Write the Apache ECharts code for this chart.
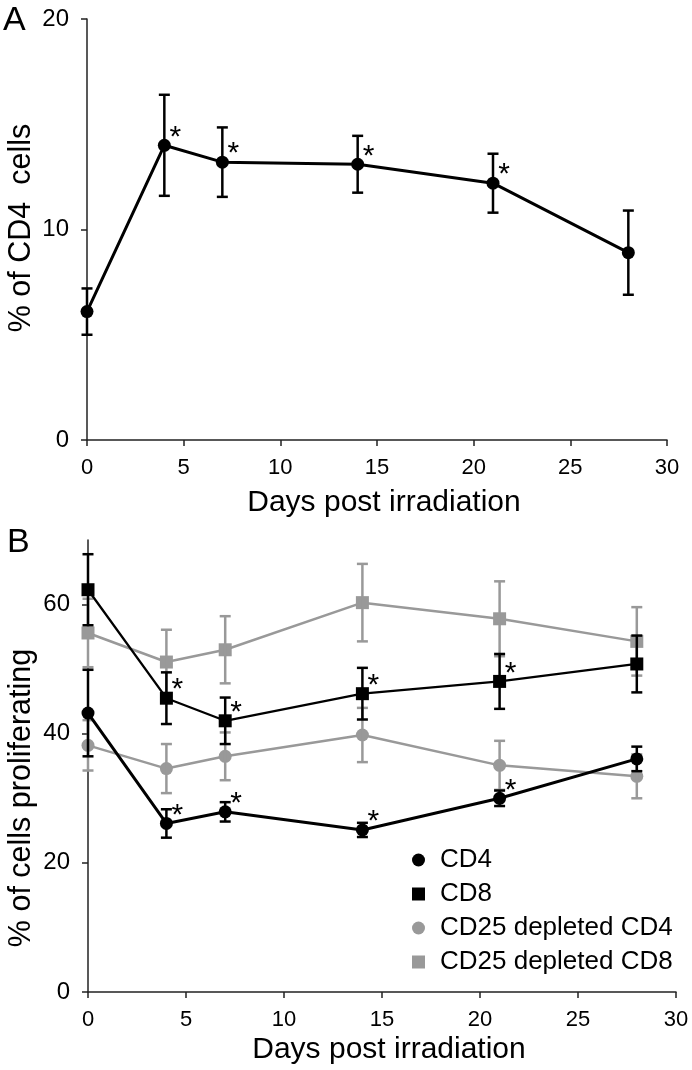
<!DOCTYPE html>
<html>
<head>
<meta charset="utf-8">
<script src="https://cdn.jsdelivr.net/npm/echarts@6/dist/echarts.min.js"></script>
<style>
  html, body { margin: 0; padding: 0; background: #fff; }
  #chart { width: 692px; height: 1070px; }
</style>
</head>
<body>
<div id="chart"></div>
<script>
const FONT = '"Liberation Sans", Arial, sans-serif';
const BLACK = '#000';
const GREY = '#999';

const days = [0, 4, 7, 14, 21, 28];

// panel A: % of CD4 cells
const cd4Pct = [6.1, 14.0, 13.2, 13.1, 12.2, 8.9];
const cd4PctErr = [1.1, 2.4, 1.65, 1.35, 1.4, 2.0];
const cd4PctSig = [0, 1, 1, 1, 1, 0];

// panel B: % of cells proliferating
const cd4Prolif = [43.2, 26.1, 27.9, 25.1, 30.0, 36.1];
const cd4ProlifErr = [6.7, 2.2, 1.5, 1.1, 1.2, 1.9];
const cd4ProlifSig = [0, 1, 1, 1, 1, 0];
const cd8Prolif = [62.3, 45.5, 42.0, 46.2, 48.1, 50.8];
const cd8ProlifErr = [5.5, 4.0, 3.6, 4.0, 4.25, 4.4];
const cd8ProlifSig = [0, 1, 1, 1, 1, 0];
const dep4Prolif = [38.2, 34.6, 36.5, 39.8, 35.1, 33.4];
const dep4ProlifErr = [3.9, 3.8, 3.7, 4.2, 3.8, 3.4];
const dep8Prolif = [55.6, 51.1, 53.0, 60.3, 57.8, 54.3];
const dep8ProlifErr = [5.3, 5.0, 5.2, 6.0, 5.8, 5.3];

const yTicksA = [0, 10, 20];
const yTicksB = [0, 20, 40, 60];

const lineSeries = (name, idx, vals, color, symbol, width, z) => ({
  name,
  type: 'line',
  xAxisIndex: idx,
  yAxisIndex: idx,
  data: days.map((d, i) => [d, vals[i]]),
  symbol,
  symbolSize: 13,
  showSymbol: true,
  lineStyle: { color, width },
  itemStyle: { color, opacity: 1 },
  emphasis: { disabled: true },
  z
});

const errSeries = (idx, vals, errs, color, z) => ({
  type: 'custom',
  xAxisIndex: idx,
  yAxisIndex: idx,
  data: days.map((d, i) => [d, vals[i] - errs[i], vals[i] + errs[i]]),
  encode: { x: 0, y: [1, 2] },
  renderItem: (params, api) => {
    const lo = api.coord([api.value(0), api.value(1)]);
    const hi = api.coord([api.value(0), api.value(2)]);
    const cap = 5.5;
    const st = { stroke: color, lineWidth: 2.5 };
    return {
      type: 'group',
      children: [
        { type: 'line', shape: { x1: lo[0], y1: lo[1], x2: hi[0], y2: hi[1] }, style: st },
        { type: 'line', shape: { x1: lo[0] - cap, y1: lo[1], x2: lo[0] + cap, y2: lo[1] }, style: st },
        { type: 'line', shape: { x1: hi[0] - cap, y1: hi[1], x2: hi[0] + cap, y2: hi[1] }, style: st }
      ]
    };
  },
  silent: true,
  z
});

const starSeries = (idx, vals, sig) => ({
  type: 'custom',
  xAxisIndex: idx,
  yAxisIndex: idx,
  data: days.map((d, i) => [d, vals[i]]).filter((p, i) => sig[i]),
  encode: { x: 0, y: 1 },
  renderItem: (params, api) => {
    const p = api.coord([api.value(0), api.value(1)]);
    return {
      type: 'text',
      x: p[0] + 11,
      y: p[1] - 8,
      style: { text: '*', fontSize: 30, fontFamily: FONT, fill: BLACK, align: 'center', verticalAlign: 'middle' }
    };
  },
  silent: true,
  z: 10
});

const xAxisBase = (idx, gap) => ({
  gridIndex: idx,
  type: 'value',
  min: 0,
  max: 30,
  interval: 5,
  name: 'Days post irradiation',
  nameLocation: 'middle',
  nameGap: gap,
  nameTextStyle: { fontSize: 30, fontFamily: FONT, color: BLACK, padding: [0, 0, 0, 14] },
  axisLine: { onZero: false, lineStyle: { color: '#222', width: 1.5 } },
  axisTick: { length: 6, lineStyle: { color: '#222', width: 1.5 } },
  axisLabel: { fontSize: 22, fontFamily: FONT, color: BLACK, margin: 17 },
  splitLine: { show: false }
});

const yAxisBase = (idx, max, ticks) => ({
  gridIndex: idx,
  type: 'value',
  min: 0,
  max,
  axisLine: { show: true, onZero: false, lineStyle: { color: '#222', width: 1.5 } },
  axisTick: { show: true, length: 6, customValues: ticks, lineStyle: { color: '#222', width: 1.5 } },
  axisLabel: { fontSize: 24, fontFamily: FONT, color: BLACK, margin: 18, customValues: ticks },
  splitLine: { show: false }
});

const chart = echarts.init(document.getElementById('chart'), null, { renderer: 'canvas' });

chart.setOption({
  animation: false,
  backgroundColor: '#fff',
  textStyle: { fontFamily: FONT },
  grid: [
    { left: 87, top: 19, width: 580, height: 421 },
    { left: 88, top: 540, width: 588, height: 452 }
  ],
  xAxis: [xAxisBase(0, 48), xAxisBase(1, 43)],
  yAxis: [yAxisBase(0, 20, yTicksA), yAxisBase(1, 70, yTicksB)],
  legend: {
    orient: 'vertical',
    left: 412,
    top: 847,
    padding: 0,
    itemWidth: 13,
    itemHeight: 13,
    itemGap: 8,
    selectedMode: false,
    textStyle: { fontSize: 26, lineHeight: 26, fontFamily: FONT, color: BLACK, padding: [0, 0, 0, 10] },
    data: [
      { name: 'CD4', icon: 'circle' },
      { name: 'CD8', icon: 'rect' },
      { name: 'CD25 depleted CD4', icon: 'circle' },
      { name: 'CD25 depleted CD8', icon: 'rect' }
    ]
  },
  graphic: [
    { type: 'text', left: 3, top: 4, style: { text: 'A', fontSize: 34, fontFamily: FONT, fill: BLACK } },
    { type: 'text', left: 7, top: 526, style: { text: 'B', fontSize: 34, fontFamily: FONT, fill: BLACK } },
    {
      type: 'text', x: 22, y: 228, rotation: Math.PI / 2,
      style: { text: '% of CD4  cells', fontSize: 30.5, fontFamily: FONT, fill: BLACK, align: 'center', verticalAlign: 'middle' }
    },
    {
      type: 'text', x: 22, y: 798, rotation: Math.PI / 2,
      style: { text: '% of cells proliferating', fontSize: 30.5, fontFamily: FONT, fill: BLACK, align: 'center', verticalAlign: 'middle' }
    }
  ],
  series: [
    // panel A
    errSeries(0, cd4Pct, cd4PctErr, BLACK, 5),
    lineSeries('CD4 %', 0, cd4Pct, BLACK, 'circle', 3, 6),
    starSeries(0, cd4Pct, cd4PctSig),
    // panel B, grey first
    lineSeries('CD25 depleted CD4', 1, dep4Prolif, GREY, 'circle', 2.5, 2),
    lineSeries('CD25 depleted CD8', 1, dep8Prolif, GREY, 'rect', 2.5, 2),
    errSeries(1, dep4Prolif, dep4ProlifErr, GREY, 3),
    errSeries(1, dep8Prolif, dep8ProlifErr, GREY, 3),
    errSeries(1, cd4Prolif, cd4ProlifErr, BLACK, 5),
    errSeries(1, cd8Prolif, cd8ProlifErr, BLACK, 5),
    lineSeries('CD4', 1, cd4Prolif, BLACK, 'circle', 3, 6),
    lineSeries('CD8', 1, cd8Prolif, BLACK, 'rect', 2.3, 6),
    starSeries(1, cd4Prolif, cd4ProlifSig),
    starSeries(1, cd8Prolif, cd8ProlifSig)
  ]
});
</script>
</body>
</html>
